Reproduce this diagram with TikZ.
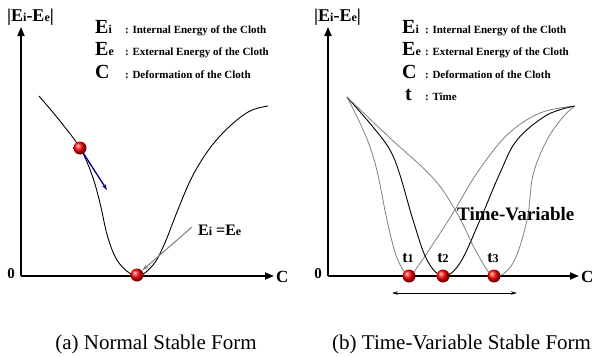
\documentclass[tikz,border=0pt]{standalone}
\usepackage{fontspec}
\setmainfont{Liberation Serif}
\usetikzlibrary{arrows.meta, positioning}
\newcommand{\smallsub}[1]{{\fontsize{12}{12}\selectfont #1}}

\begin{document}
\begin{tikzpicture}[
  x=1pt, y=-1pt,
  axis/.style={line width=1.8pt, -{Triangle[length=9pt, width=7pt]}},
  curve/.style={line width=0.9pt, black},
  gcurve/.style={line width=0.8pt, gray},
  ball/.style={circle, minimum size=13pt, inner sep=0pt, shading=ball, ball color=red},
  sym/.style={anchor=base west, inner sep=0pt, font=\fontsize{20}{20}\selectfont\bfseries},
  desc/.style={anchor=base west, inner sep=0pt, font=\fontsize{11}{12}\selectfont\bfseries},
  ylbl/.style={anchor=base west, inner sep=0pt, font=\fontsize{18}{18}\selectfont\bfseries},
  tick/.style={inner sep=0pt, font=\fontsize{15}{15}\selectfont\bfseries},
  caption/.style={inner sep=0pt, font=\fontsize{21}{24}\selectfont}
]
  \useasboundingbox (0,0) rectangle (594,356);

  % (a) normal stable form
  \coordinate (o1) at (21,276);
  \coordinate (ytop1) at (21,27);
  \coordinate (xend1) at (274,276);
  \draw[axis] (o1) -- (ytop1);
  \draw[axis] (o1) -- (xend1);
  \node[ylbl] (yl1) at (7,21) {|E\smallsub{i}-E\smallsub{e}|};
  \node[tick, anchor=east] (zero1) at (15,274) {0};
  \node[tick, anchor=west, font=\fontsize{17}{17}\selectfont\bfseries] (c1) at (276,277) {C};

  \node[sym] (ei1) at (95,33) {E\smallsub{i}};
  \node[desc] (eit1) at (125,33) {: Internal Energy of the Cloth};
  \node[sym] (ee1) at (95,55) {E\smallsub{e}};
  \node[desc] (eet1) at (125,55) {: External Energy of the Cloth};
  \node[sym] (cc1) at (95,78) {C};
  \node[desc] (cct1) at (125,78) {: Deformation of the Cloth};

  \draw[curve] plot[smooth, tension=0.6] coordinates {(39,96) (60,121) (80,148) (92,175) (100,203) (108,238) (119,263) (137,276) (153,265) (164,245) (177,212) (192,177) (210,148) (230,126) (250,111) (268,106)};

  \coordinate (vel) at (107,190);
  \draw[line width=1.3pt, blue!50!black, -{Stealth[length=6pt, width=4pt]}] (80,148) -- (vel);

  \node[ball] (b1) at (80,148) {};
  \node[ball] (b2) at (137,275) {};

  \node[anchor=base west, inner sep=0pt, font=\fontsize{16}{16}\selectfont\bfseries] (eqlbl) at (198,235) {E\smallsub{i} =E\smallsub{e}};
  \coordinate (eqtail) at (192,227);
  \draw[gray, line width=1pt, -{Stealth[length=7pt, width=4pt]}] (eqtail) -- (b2);

  \node[caption, anchor=base] (capa) at (156,349) {(a) Normal Stable Form};

  % (b) time-variable stable form
  \coordinate (o2) at (328,276);
  \coordinate (ytop2) at (328,27);
  \coordinate (xend2) at (579,276);
  \draw[axis] (o2) -- (ytop2);
  \draw[axis] (o2) -- (xend2);
  \node[ylbl] (yl2) at (314,21) {|E\smallsub{i}-E\smallsub{e}|};
  \node[tick, anchor=east] (zero2) at (322,274) {0};
  \node[tick, anchor=west, font=\fontsize{17}{17}\selectfont\bfseries] (c2) at (581,277) {C};

  \node[sym] (ei2) at (402,33) {E\smallsub{i}};
  \node[desc] (eit2) at (425,33) {: Internal Energy of the Cloth};
  \node[sym] (ee2) at (402,55) {E\smallsub{e}};
  \node[desc] (eet2) at (425,55) {: External Energy of the Cloth};
  \node[sym] (cc2) at (402,78) {C};
  \node[desc] (cct2) at (425,78) {: Deformation of the Cloth};
  \node[sym] (tt2) at (405,100) {t};
  \node[desc] (ttt2) at (425,100) {: Time};

  \draw[gcurve] plot[smooth, tension=0.6] coordinates {(347,97) (360,123) (370,147) (378,175) (387,220) (397,258) (409,276) (418,266) (433,244) (453,213) (477,173) (507,135) (540,113) (575,106)};
  \draw[curve] plot[smooth, tension=0.6] coordinates {(347,97) (373,127) (390,150) (400,175) (413,220) (427,260) (443,276) (460,263) (480,220) (500,173) (517,140) (547,115) (575,106)};
  \draw[gcurve] plot[smooth, tension=0.6] coordinates {(347,97) (390,138) (433,178) (457,213) (477,253) (494,276) (513,263) (527,220) (533,175) (547,140) (563,117) (575,106)};

  \node[ball] (t1b) at (409,276) {};
  \node[ball] (t2b) at (443,276) {};
  \node[ball] (t3b) at (494,276) {};

  \node[anchor=base, inner sep=0pt, font=\fontsize{16}{16}\selectfont\bfseries] (t1l) at (408,262) {t\smallsub{1}};
  \node[anchor=base, inner sep=0pt, font=\fontsize{16}{16}\selectfont\bfseries] (t2l) at (443,262) {t\smallsub{2}};
  \node[anchor=base, inner sep=0pt, font=\fontsize{16}{16}\selectfont\bfseries] (t3l) at (493,262) {t\smallsub{3}};

  \node[anchor=base west, inner sep=0pt, font=\fontsize{19}{19}\selectfont\bfseries] (tvar) at (457,220) {Time-Variable};

  \coordinate (tl) at (392,293);
  \coordinate (tr) at (517,293);
  \draw[line width=0.9pt, {Stealth[length=6pt, width=3.5pt]}-{Stealth[length=6pt, width=3.5pt]}] (tl) -- (tr);

  \node[caption, anchor=base west] (capb) at (332,349) {(b) Time-Variable Stable Form};
\end{tikzpicture}
\end{document}
